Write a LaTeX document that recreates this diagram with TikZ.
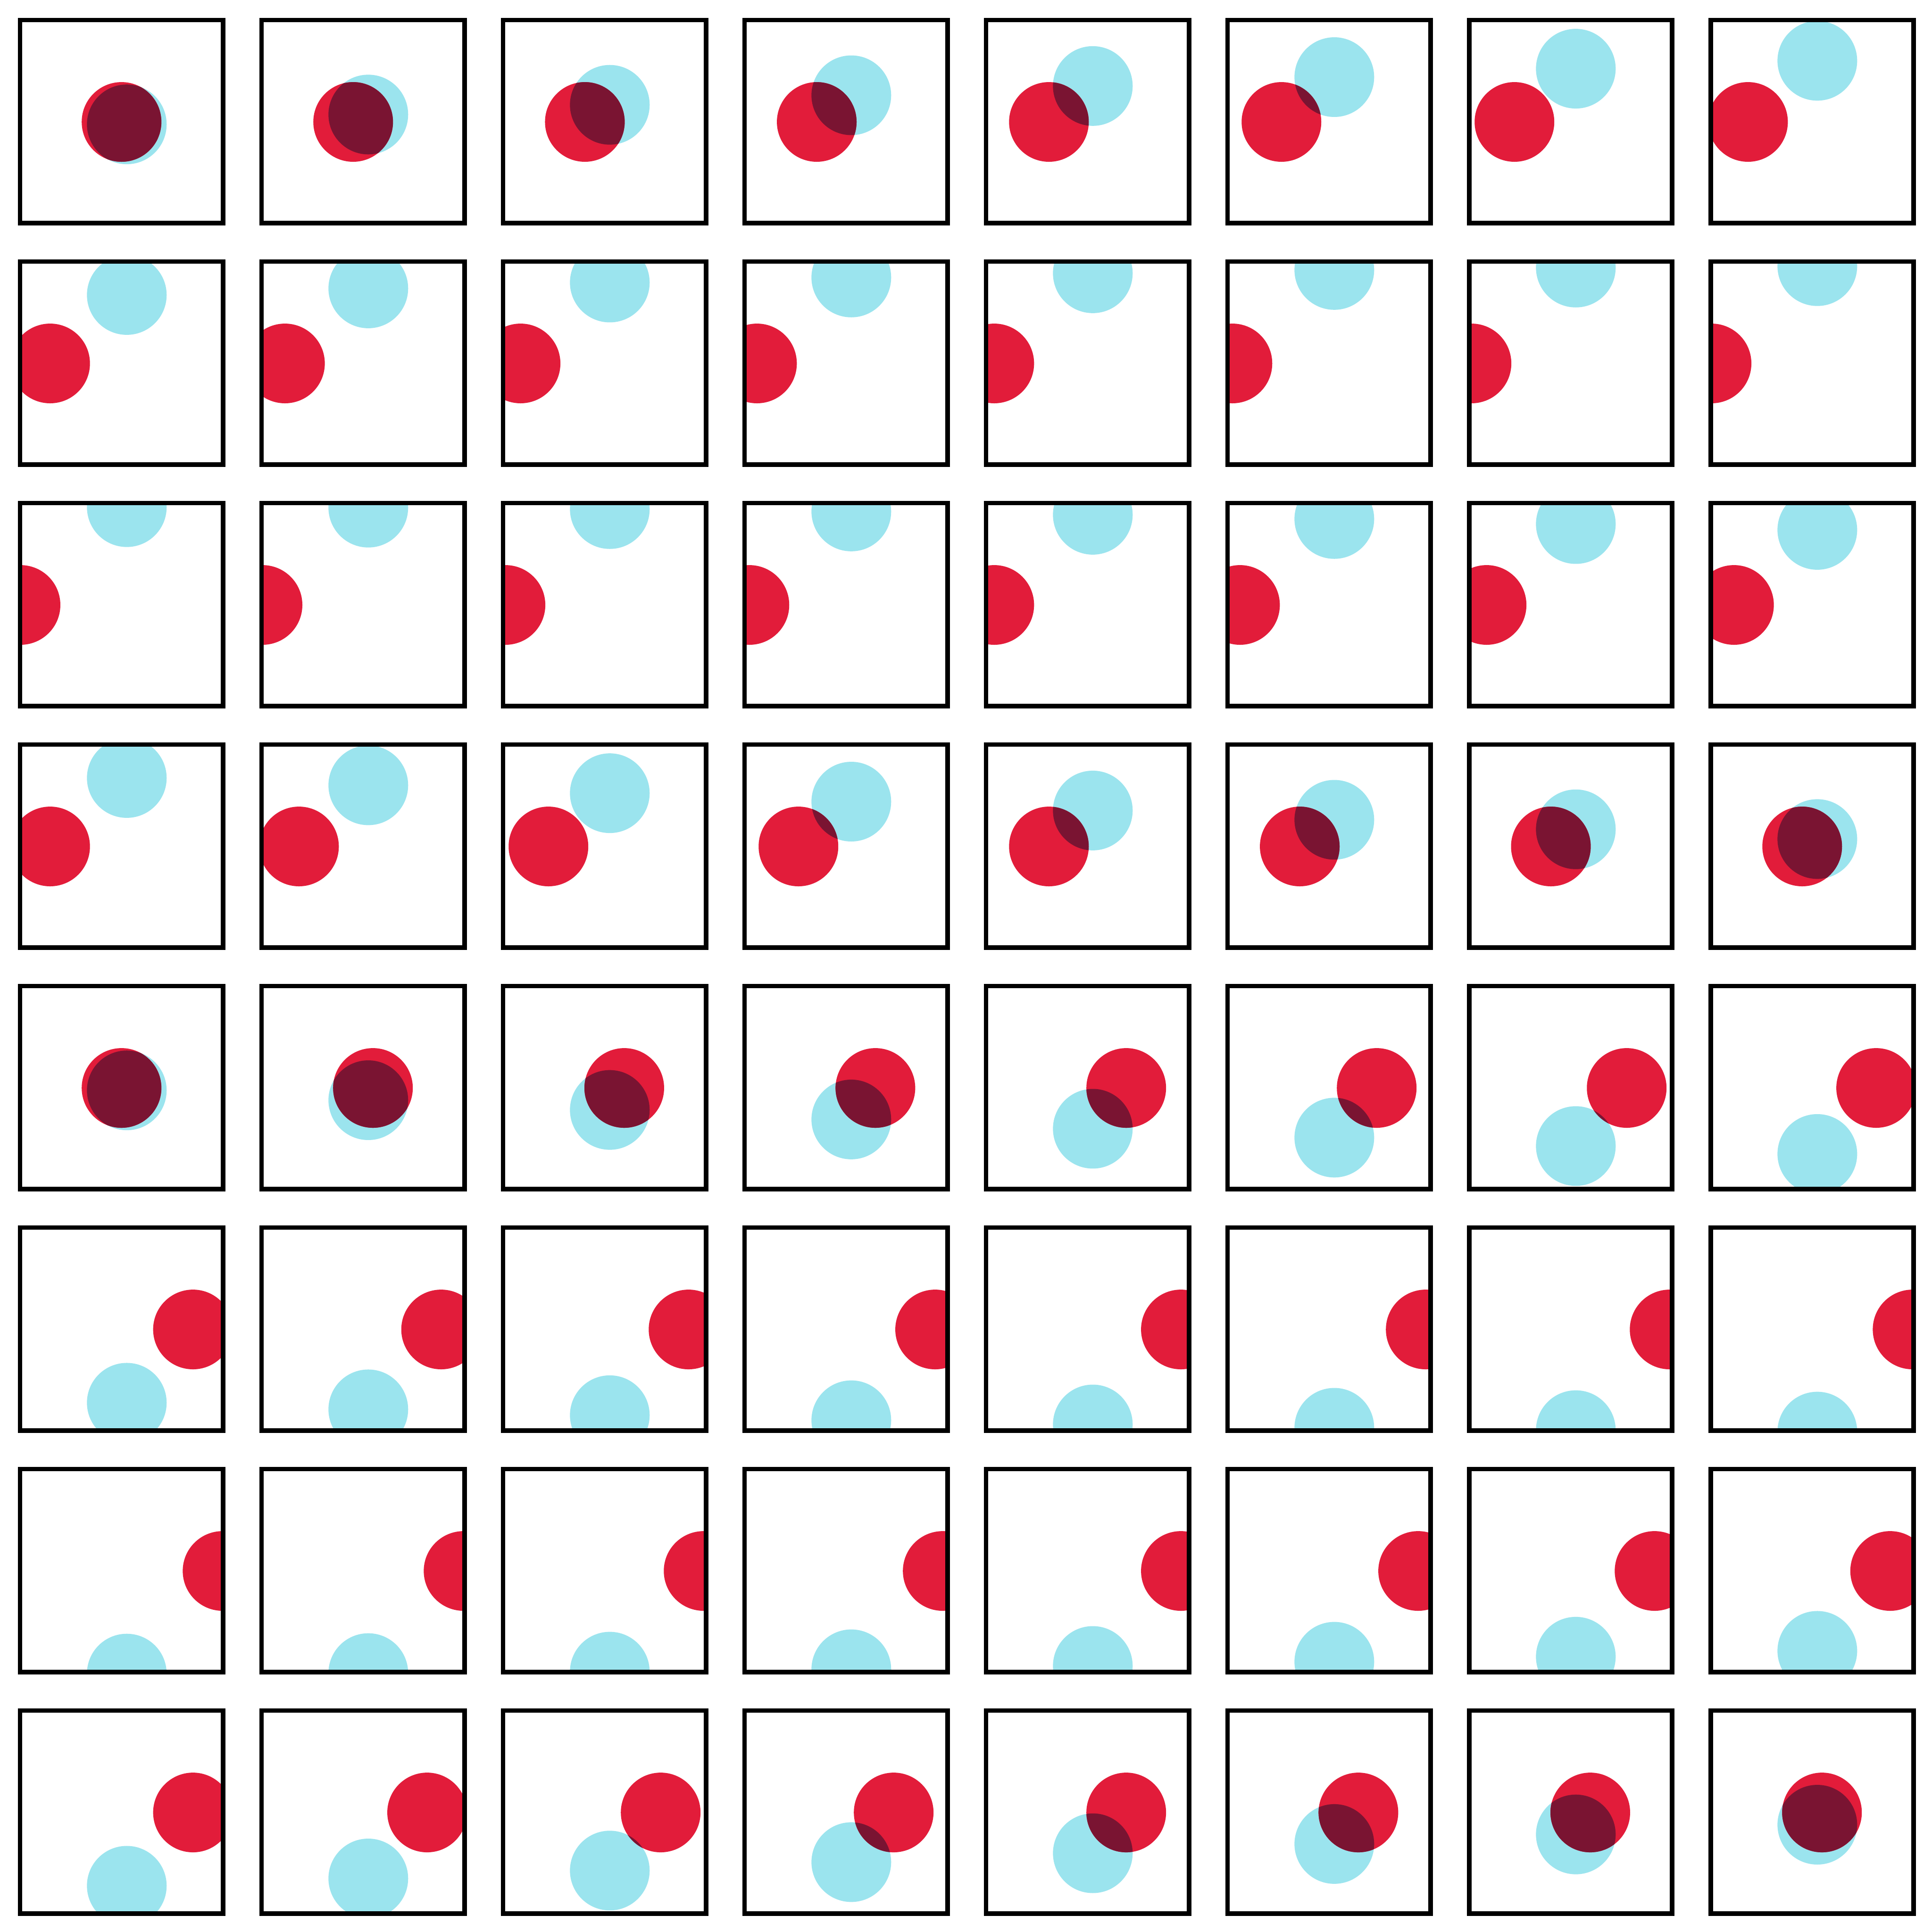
\documentclass[tikz,border=0pt]{standalone}

\definecolor{dotred}{RGB}{226,28,58}
\definecolor{dotcyan}{RGB}{155,228,238}
\definecolor{dotdark}{RGB}{122,20,50}

\tikzset{
  panel/.style={draw=black, line width=1.6pt},
  disc/.style={line width=0pt},
}

\begin{document}
\begin{tikzpicture}[x=3cm, y=-3cm]

    \fill[white] (0,0) rectangle (8,8);

    \foreach \n in {0,...,63} {
        \pgfmathtruncatemacro{\col}{mod(\n,8)}
        \pgfmathtruncatemacro{\row}{\n/8}
        \pgfmathsetmacro{\s}{sin(\n*5.625)}
        \begin{scope}[shift={(\col,\row)}]
            \begin{scope}
                \clip (0.0833,0.0833) rectangle (0.9233,0.9233);
                \coordinate (red) at ({0.5033-0.4183*\s},0.505);
                \coordinate (cyan) at (0.5250,{0.5150-0.415*\s});
                \fill[dotcyan, disc] (cyan) circle (0.165);
                \fill[dotred, disc] (red) circle (0.165);
                \clip (red) circle (0.165);
                \fill[dotdark, disc] (cyan) circle (0.165);
            \end{scope}
            \draw[panel] (0.0833,0.0833) rectangle (0.9233,0.9233);
        \end{scope}
    }

\end{tikzpicture}
\end{document}
